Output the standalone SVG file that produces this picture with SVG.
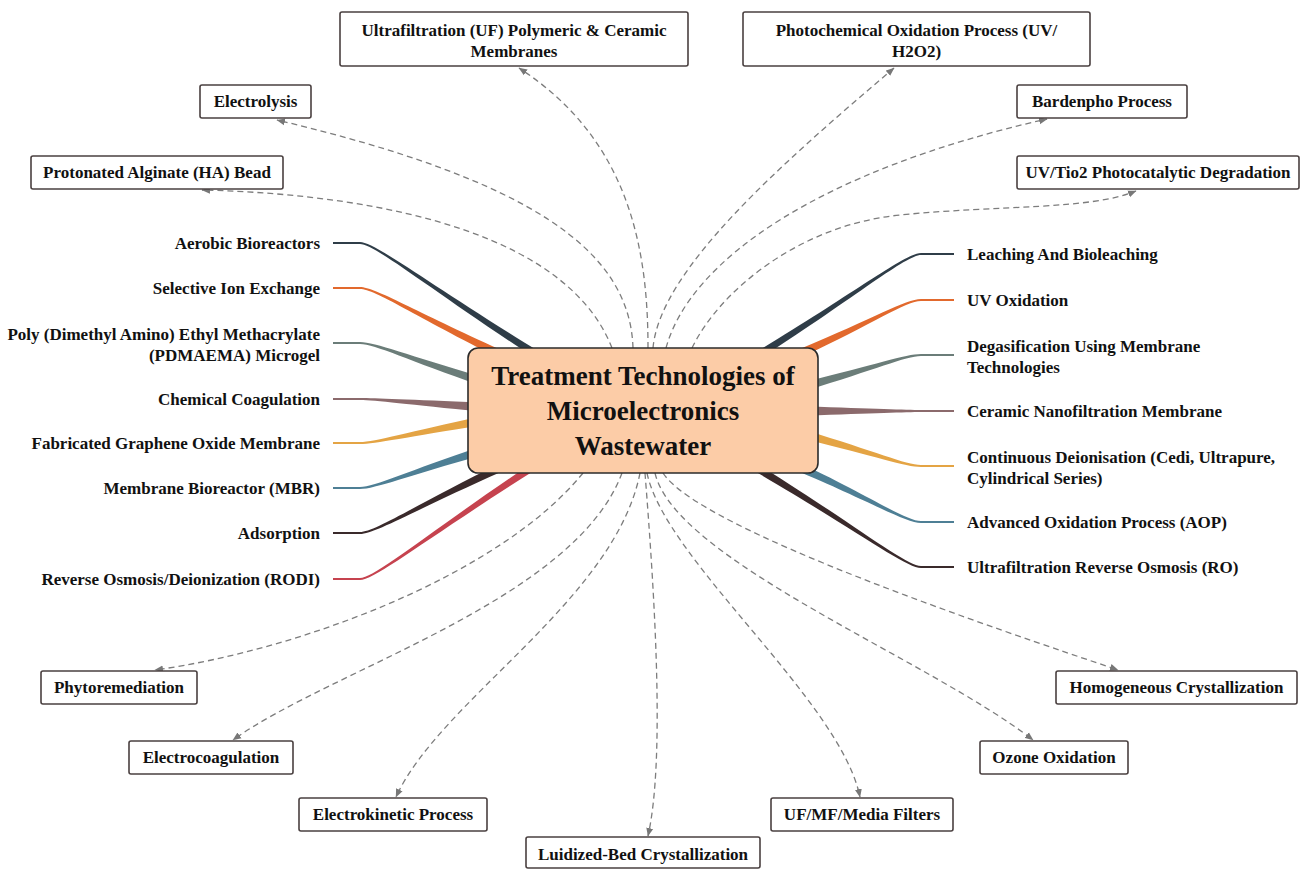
<svg xmlns="http://www.w3.org/2000/svg" width="1309" height="869" viewBox="0 0 1309 869">
<defs>
<marker id="arr" markerWidth="9" markerHeight="8" refX="8" refY="4" orient="auto" markerUnits="userSpaceOnUse"><path d="M0,0.5 L8.5,4 L0,7.5 Z" fill="#777"/></marker>
<style>
.dash{fill:none;stroke:#7d7d7d;stroke-width:1.3;stroke-dasharray:6 4;marker-end:url(#arr)}
.box{fill:#fff;stroke:#4a4040;stroke-width:1.6}
.t{font-family:"Liberation Serif","Times New Roman",serif;font-weight:bold;font-size:17px;fill:#111}
.c{text-anchor:middle}
.e{text-anchor:end}
.title{font-family:"Liberation Serif","Times New Roman",serif;font-weight:bold;font-size:27px;fill:#111;text-anchor:middle}
</style>
</defs>
<rect width="1309" height="869" fill="#fff"/>
<g id="connectors">
<path class="dash" d="M612,348 C570,240 400,195 202,190"/>
<path class="dash" d="M633,348 C630,250 530,180 277,120"/>
<path class="dash" d="M648,348 C648,250 630,140 519,68"/>
<path class="dash" d="M653,348 C660,270 780,165 894,68"/>
<path class="dash" d="M666,348 C690,260 820,170 1047,119"/>
<path class="dash" d="M692,348 C720,290 800,225 900,215 C1000,205 1090,210 1136,191"/>
<path class="dash" d="M583,473 C500,575 300,650 155,670"/>
<path class="dash" d="M622,473 C575,600 330,670 233,740"/>
<path class="dash" d="M640,473 C615,600 440,700 396,797"/>
<path class="dash" d="M645,473 C655,600 665,760 648,836"/>
<path class="dash" d="M647,473 C665,560 840,700 860,797"/>
<path class="dash" d="M655,473 C675,560 930,660 1033,740"/>
<path class="dash" d="M663,473 C700,530 1000,630 1118,670"/>
<path fill="#2f3d48" d="M333,242 L360,242 C375,242 431.6,285.7 539,351.5 L539,360.5 C431.6,290.7 375,244 360,244 L333,244 Z"/>
<path fill="#e2692d" d="M333,287 L360,287 C375,287 416,311.9 500,349.5 L500,358.5 C416,316.9 375,289 360,289 L333,289 Z"/>
<path fill="#6b7d79" d="M333,342 L360,342 C375,342 408.4,355.7 481,376.5 L481,385.5 C408.4,360.7 375,344 360,344 L333,344 Z"/>
<path fill="#8b6a6c" d="M333,398 L360,398 C375,398 408.4,399.7 481,402.5 L481,411.5 C408.4,404.7 375,400 360,400 L333,400 Z"/>
<path fill="#e4a444" d="M333,442 L360,442 C375,442 408.4,431.7 481,416.5 L481,425.5 C408.4,436.7 375,444 360,444 L333,444 Z"/>
<path fill="#4e7f95" d="M333,487 L360,487 C375,487 408.4,470.7 481,446.5 L481,455.5 C408.4,475.7 375,489 360,489 L333,489 Z"/>
<path fill="#3a2a2b" d="M333,532 L360,532 C375,532 416.8,504.1 502,462.5 L502,471.5 C416.8,509.1 375,534 360,534 L333,534 Z"/>
<path fill="#c6434f" d="M333,578 L360,578 C375,578 430.4,530.9 536,460.5 L536,469.5 C430.4,535.9 375,580 360,580 L333,580 Z"/>
<path fill="#2f3d48" d="M954,253 L921,253 C906,253 855.4,292.3 757,351.5 L757,360.5 C855.4,297.3 906,255 921,255 L954,255 Z"/>
<path fill="#e2692d" d="M954,299 L921,299 C906,299 873,318.7 801,348.5 L801,357.5 C873,323.7 906,301 921,301 L954,301 Z"/>
<path fill="#6b7d79" d="M954,354 L921,354 C906,354 875,364.9 806,381.5 L806,390.5 C875,369.9 906,356 921,356 L954,356 Z"/>
<path fill="#8b6a6c" d="M954,410 L921,410 C906,410 875,408.5 806,406.5 L806,415.5 C875,413.5 906,412 921,412 L954,412 Z"/>
<path fill="#e4a444" d="M954,465 L921,465 C906,465 875,451.1 806,430.5 L806,439.5 C875,456.1 906,467 921,467 L954,467 Z"/>
<path fill="#4e7f95" d="M954,521 L921,521 C906,521 873,497.9 801,463.5 L801,472.5 C873,502.9 906,523 921,523 L954,523 Z"/>
<path fill="#3a2a2b" d="M954,566 L921,566 C906,566 855.4,524.9 757,463.5 L757,472.5 C855.4,529.9 906,568 921,568 L954,568 Z"/>
</g>
<g id="center">
<rect x="468" y="348" width="350" height="125" rx="10" fill="#fccca7" stroke="#2b2b2b" stroke-width="1.6"/>
<text class="title" x="643" y="385">Treatment Technologies of</text>
<text class="title" x="643" y="420">Microelectronics</text>
<text class="title" x="643" y="455">Wastewater</text>
</g>
<g id="n-aerobic"><text class="t e" x="320" y="249">Aerobic Bioreactors</text></g>
<g id="n-selective"><text class="t e" x="320" y="294">Selective Ion Exchange</text></g>
<g id="n-poly"><text class="t e" x="320" y="340">Poly (Dimethyl Amino) Ethyl Methacrylate</text><text class="t e" x="320" y="361">(PDMAEMA) Microgel</text></g>
<g id="n-chemical"><text class="t e" x="320" y="405">Chemical Coagulation</text></g>
<g id="n-graphene"><text class="t e" x="320" y="449">Fabricated Graphene Oxide Membrane</text></g>
<g id="n-mbr"><text class="t e" x="320" y="494">Membrane Bioreactor (MBR)</text></g>
<g id="n-adsorption"><text class="t e" x="320" y="539">Adsorption</text></g>
<g id="n-rodi"><text class="t e" x="320" y="585">Reverse Osmosis/Deionization (RODI)</text></g>
<g id="n-leaching"><text class="t" x="967" y="260">Leaching And Bioleaching</text></g>
<g id="n-uvox"><text class="t" x="967" y="306">UV Oxidation</text></g>
<g id="n-degas"><text class="t" x="967" y="352">Degasification Using Membrane</text><text class="t" x="967" y="373">Technologies</text></g>
<g id="n-ceramic"><text class="t" x="967" y="417">Ceramic Nanofiltration Membrane</text></g>
<g id="n-cedi"><text class="t" x="967" y="463">Continuous Deionisation (Cedi, Ultrapure,</text><text class="t" x="967" y="484">Cylindrical Series)</text></g>
<g id="n-aop"><text class="t" x="967" y="528">Advanced Oxidation Process (AOP)</text></g>
<g id="n-ro"><text class="t" x="967" y="573">Ultrafiltration Reverse Osmosis (RO)</text></g>
<g id="n-uf"><rect class="box" x="340" y="12" width="348" height="54" rx="2"/><text class="t c" x="514" y="36">Ultrafiltration (UF) Polymeric &amp; Ceramic</text><text class="t c" x="514" y="57">Membranes</text></g>
<g id="n-photo"><rect class="box" x="743" y="12" width="347" height="54" rx="2"/><text class="t c" x="916.5" y="36">Photochemical Oxidation Process (UV/</text><text class="t c" x="916.5" y="57">H2O2)</text></g>
<g id="n-electrolysis"><rect class="box" x="200" y="85" width="111" height="33" rx="2"/><text class="t c" x="255.5" y="107">Electrolysis</text></g>
<g id="n-bardenpho"><rect class="box" x="1017" y="85" width="170" height="33" rx="2"/><text class="t c" x="1102" y="107">Bardenpho Process</text></g>
<g id="n-alginate"><rect class="box" x="31" y="156" width="252" height="33" rx="2"/><text class="t c" x="157" y="178">Protonated Alginate (HA) Bead</text></g>
<g id="n-tio2"><rect class="box" x="1017" y="156" width="282" height="33" rx="2"/><text class="t c" x="1158" y="178">UV/Tio2 Photocatalytic Degradation</text></g>
<g id="n-phyto"><rect class="box" x="41" y="671" width="156" height="33" rx="2"/><text class="t c" x="119" y="693">Phytoremediation</text></g>
<g id="n-ecoag"><rect class="box" x="129" y="741" width="164" height="33" rx="2"/><text class="t c" x="211" y="763">Electrocoagulation</text></g>
<g id="n-ekin"><rect class="box" x="299" y="798" width="188" height="33" rx="2"/><text class="t c" x="393" y="820">Electrokinetic Process</text></g>
<g id="n-luid"><rect class="box" x="526" y="837" width="234" height="31" rx="2"/><text class="t c" x="643" y="860">Luidized-Bed Crystallization</text></g>
<g id="n-ufmf"><rect class="box" x="771" y="798" width="182" height="33" rx="2"/><text class="t c" x="862" y="820">UF/MF/Media Filters</text></g>
<g id="n-ozone"><rect class="box" x="980" y="741" width="148" height="33" rx="2"/><text class="t c" x="1054" y="763">Ozone Oxidation</text></g>
<g id="n-homog"><rect class="box" x="1056" y="671" width="241" height="33" rx="2"/><text class="t c" x="1176.5" y="693">Homogeneous Crystallization</text></g>
</svg>
